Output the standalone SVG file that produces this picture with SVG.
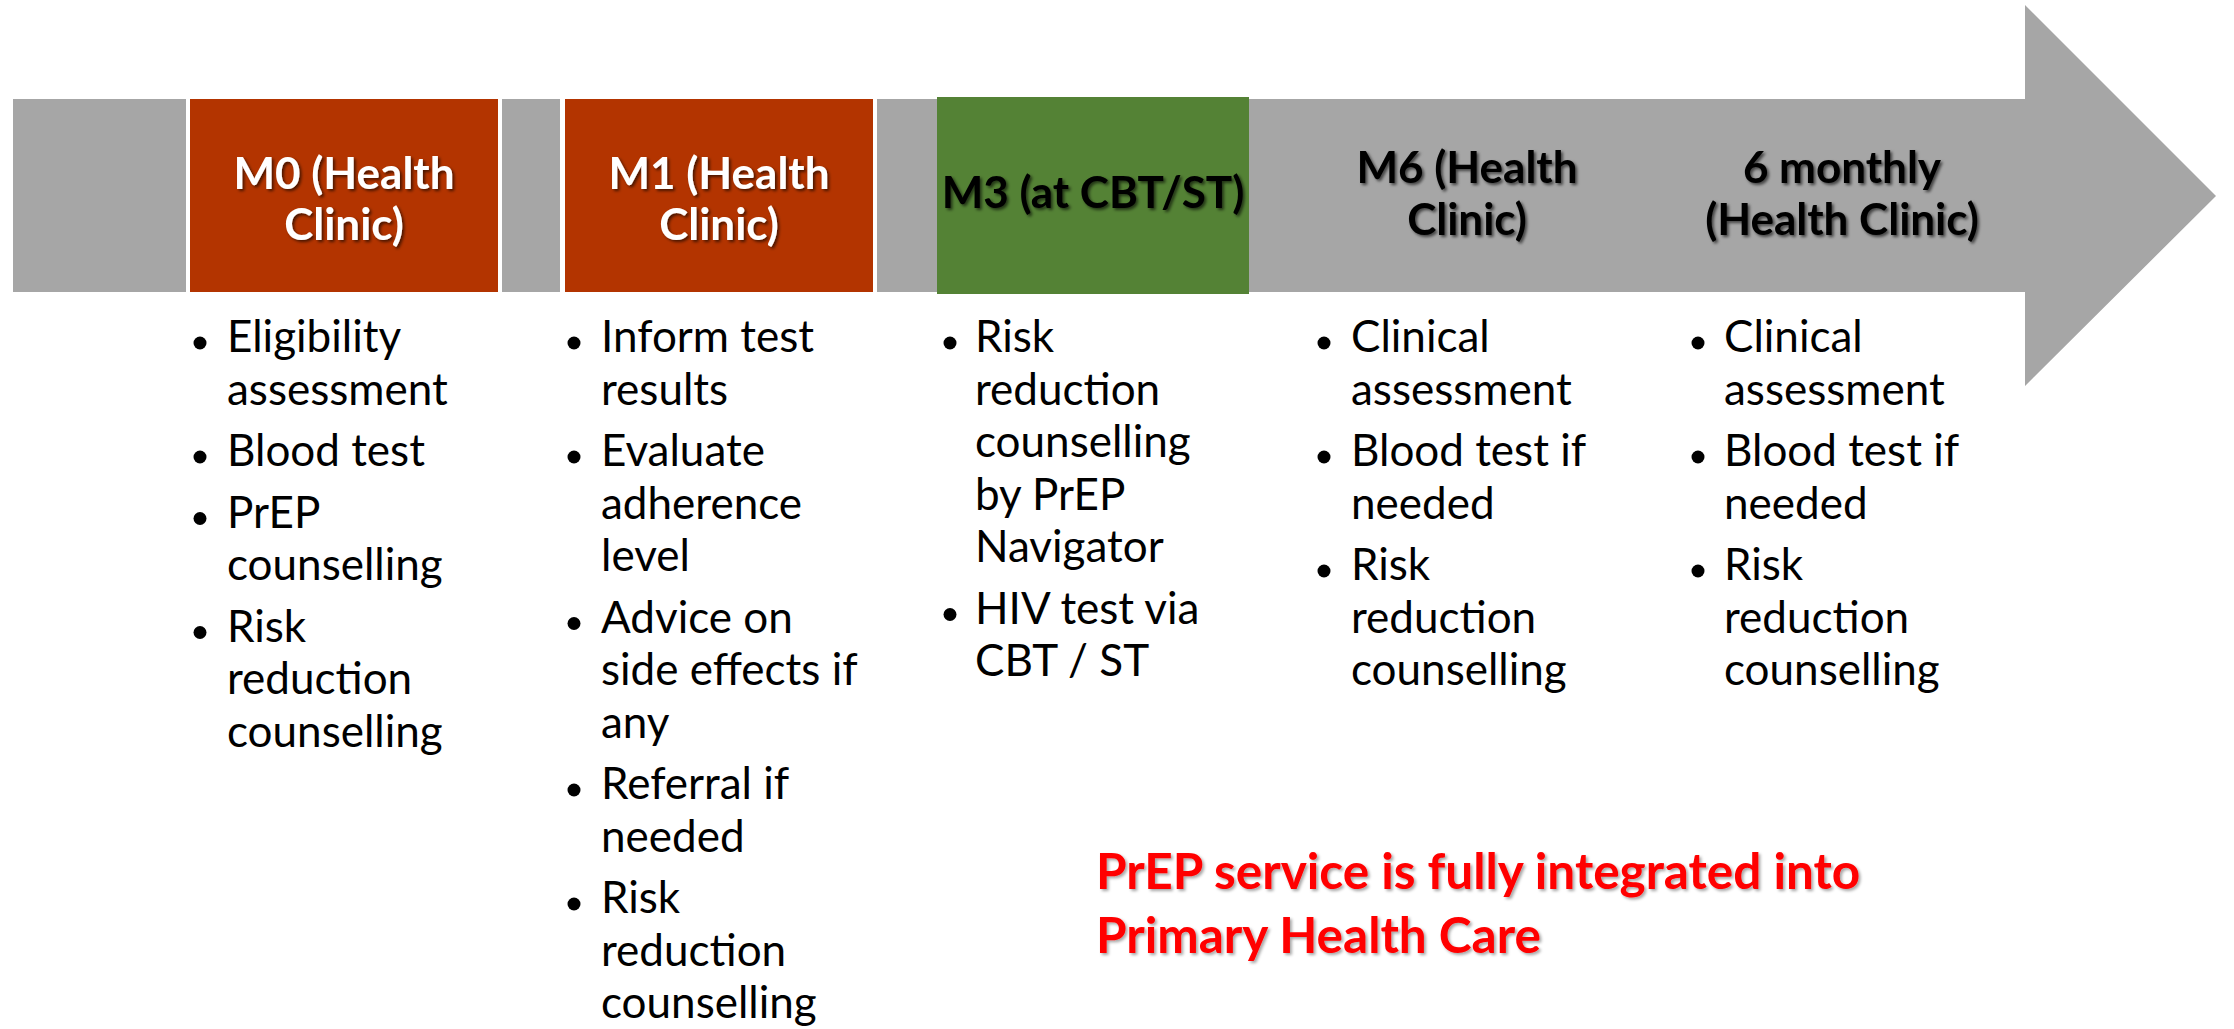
<svg xmlns="http://www.w3.org/2000/svg" width="2234" height="1029" viewBox="0 0 2234 1029">
<defs>
<filter id="shadow" x="-10%" y="-20%" width="120%" height="140%">
<feDropShadow dx="2" dy="2" stdDeviation="1.5" flood-color="#000" flood-opacity="0.6"/>
</filter>
<filter id="shadowLight" x="-10%" y="-20%" width="120%" height="140%">
<feDropShadow dx="2" dy="2" stdDeviation="1.5" flood-color="#000" flood-opacity="0.35"/>
</filter>
</defs>
<style>
.hdr{font-family:Lato,"Liberation Sans",sans-serif;font-weight:bold;font-size:44px;text-anchor:middle;filter:url(#shadow)}
.wht{fill:#ffffff}
.blk{fill:#000000}
.body{font-family:Lato,"Liberation Sans",sans-serif;font-size:44px;fill:#000000}
.dot{fill:#000000}
.note{font-family:Lato,"Liberation Sans",sans-serif;font-weight:bold;font-size:49.5px;fill:#ff0000;filter:url(#shadowLight)}
.gray{fill:#a6a6a6}
.sep{fill:#ffffff}
.orange{fill:#b33400}
.green{fill:#548235}
</style>
<rect width="2234" height="1029" fill="#ffffff"/>
<g id="timeline">
<polygon class="gray" points="13,99 2025,99 2025,5 2216,196 2025,386 2025,292 13,292"/>
<rect class="sep" x="186" y="99" width="4" height="193"/>
<rect class="sep" x="498" y="99" width="4" height="193"/>
<rect class="sep" x="560" y="99" width="5" height="193"/>
<rect class="sep" x="873" y="99" width="4" height="193"/>
</g>
<g id="connectors"></g>
<g id="stage-m0">
<rect class="orange" x="190" y="99" width="308" height="193"/>
<text class="hdr wht"><tspan x="344" y="189">M0 (Health</tspan><tspan x="344" y="240">Clinic)</tspan></text>
</g>
<g id="stage-m1">
<rect class="orange" x="565" y="99" width="308" height="193"/>
<text class="hdr wht"><tspan x="719" y="189">M1 (Health</tspan><tspan x="719" y="240">Clinic)</tspan></text>
</g>
<g id="stage-m3">
<rect class="green" x="937" y="97" width="312" height="197"/>
<text class="hdr blk" x="1093" y="208">M3 (at CBT/ST)</text>
</g>
<g id="stage-m6">
<text class="hdr blk"><tspan x="1467" y="183">M6 (Health</tspan><tspan x="1467" y="235">Clinic)</tspan></text>
</g>
<g id="stage-6monthly">
<text class="hdr blk"><tspan x="1842" y="183">6 monthly</tspan><tspan x="1842" y="235">(Health Clinic)</tspan></text>
</g>
<g id="list-m0">
<circle class="dot" cx="200" cy="343" r="6.5"/>
<circle class="dot" cx="200" cy="457" r="6.5"/>
<circle class="dot" cx="200" cy="518.5" r="6.5"/>
<circle class="dot" cx="200" cy="632.5" r="6.5"/>
<text class="body"><tspan x="227" y="352">Eligibility</tspan><tspan x="227" y="404.5">assessment</tspan><tspan x="227" y="466">Blood test</tspan><tspan x="227" y="527.5">PrEP</tspan><tspan x="227" y="580">counselling</tspan><tspan x="227" y="641.5">Risk</tspan><tspan x="227" y="694">reduction</tspan><tspan x="227" y="746.5">counselling</tspan></text>
</g>
<g id="list-m1">
<circle class="dot" cx="574" cy="343" r="6.5"/>
<circle class="dot" cx="574" cy="457" r="6.5"/>
<circle class="dot" cx="574" cy="623.5" r="6.5"/>
<circle class="dot" cx="574" cy="790" r="6.5"/>
<circle class="dot" cx="574" cy="904" r="6.5"/>
<text class="body"><tspan x="601" y="352">Inform test</tspan><tspan x="601" y="404.5">results</tspan><tspan x="601" y="466">Evaluate</tspan><tspan x="601" y="518.5">adherence</tspan><tspan x="601" y="571">level</tspan><tspan x="601" y="632.5">Advice on</tspan><tspan x="601" y="685">side effects if</tspan><tspan x="601" y="737.5">any</tspan><tspan x="601" y="799">Referral if</tspan><tspan x="601" y="851.5">needed</tspan><tspan x="601" y="913">Risk</tspan><tspan x="601" y="965.5">reduction</tspan><tspan x="601" y="1018">counselling</tspan></text>
</g>
<g id="list-m3">
<circle class="dot" cx="950" cy="343" r="6.5"/>
<circle class="dot" cx="950" cy="614.5" r="6.5"/>
<text class="body"><tspan x="975" y="352">Risk</tspan><tspan x="975" y="404.5">reduction</tspan><tspan x="975" y="457">counselling</tspan><tspan x="975" y="509.5">by PrEP</tspan><tspan x="975" y="562">Navigator</tspan><tspan x="975" y="623.5">HIV test via</tspan><tspan x="975" y="676">CBT / ST</tspan></text>
</g>
<g id="list-m6">
<circle class="dot" cx="1324" cy="343" r="6.5"/>
<circle class="dot" cx="1324" cy="457" r="6.5"/>
<circle class="dot" cx="1324" cy="571" r="6.5"/>
<text class="body"><tspan x="1351" y="352">Clinical</tspan><tspan x="1351" y="404.5">assessment</tspan><tspan x="1351" y="466">Blood test if</tspan><tspan x="1351" y="518.5">needed</tspan><tspan x="1351" y="580">Risk</tspan><tspan x="1351" y="632.5">reduction</tspan><tspan x="1351" y="685">counselling</tspan></text>
</g>
<g id="list-6monthly">
<circle class="dot" cx="1698" cy="343" r="6.5"/>
<circle class="dot" cx="1698" cy="457" r="6.5"/>
<circle class="dot" cx="1698" cy="571" r="6.5"/>
<text class="body"><tspan x="1724" y="352">Clinical</tspan><tspan x="1724" y="404.5">assessment</tspan><tspan x="1724" y="466">Blood test if</tspan><tspan x="1724" y="518.5">needed</tspan><tspan x="1724" y="580">Risk</tspan><tspan x="1724" y="632.5">reduction</tspan><tspan x="1724" y="685">counselling</tspan></text>
</g>
<g id="note">
<text class="note"><tspan x="1096" y="889">PrEP service is fully integrated into</tspan><tspan x="1096" y="953">Primary Health Care</tspan></text>
</g>
</svg>
